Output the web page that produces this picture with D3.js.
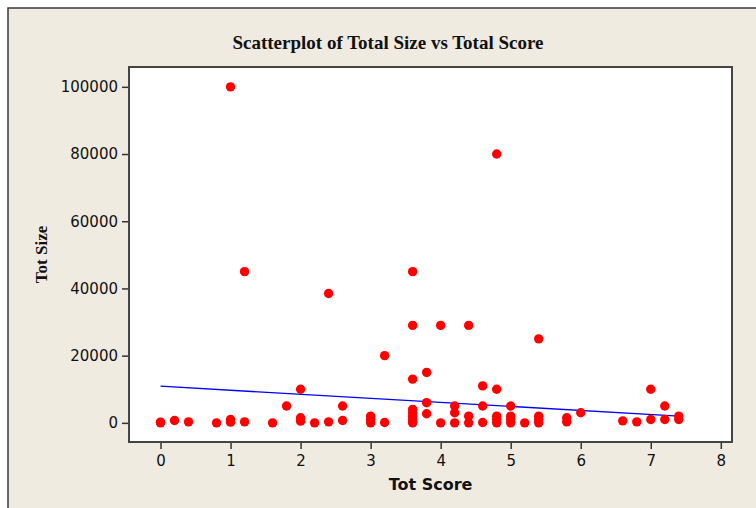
<!DOCTYPE html>
<html>
<head>
<meta charset="utf-8">
<script src="https://cdn.jsdelivr.net/npm/d3@7"></script>
<style>
  html, body { margin: 0; padding: 0; background: #ffffff; }
  svg { display: block; }
</style>
</head>
<body>
<svg id="chart" width="756" height="508"></svg>
<script>
// ---- Data ----
const scores = [
  0, 0, 0.2, 0.4, 0.8,
  1.0, 1.0, 1.0, 1.2, 1.2, 1.6, 1.8,
  2.0, 2.0, 2.0, 2.2, 2.4, 2.4, 2.6, 2.6,
  3.0, 3.0, 3.0, 3.2, 3.2,
  3.6, 3.6, 3.6, 3.6, 3.6, 3.6, 3.6, 3.6, 3.6,
  3.8, 3.8, 3.8, 4.0, 4.0,
  4.2, 4.2, 4.2, 4.4, 4.4, 4.4,
  4.6, 4.6, 4.6, 4.8, 4.8, 4.8, 4.8, 4.8,
  5.0, 5.0, 5.0, 5.0, 5.2,
  5.4, 5.4, 5.4, 5.4, 5.8, 5.8, 6.0,
  6.6, 6.8, 7.0, 7.0, 7.2, 7.2, 7.4, 7.4
];
const sizes = [
  0, 200, 700, 300, 0,
  100000, 1000, 200, 45000, 300, 0, 5000,
  10000, 1500, 500, 0, 38500, 300, 5000, 700,
  2000, 1000, 0, 20000, 100,
  45000, 29000, 13000, 4000, 3000, 2000, 1000, 300, 0,
  15000, 6000, 2700, 29000, 0,
  5000, 3000, 0, 29000, 2000, 0,
  11000, 5000, 100, 80000, 10000, 2000, 1000, 0,
  5000, 2000, 1000, 0, 0,
  25000, 2000, 1000, 0, 1500, 300, 3000,
  600, 300, 10000, 1000, 5000, 1000, 2000, 1000
];
// fitted regression line endpoints
const fitScores = [0, 7.4];
const fitSizes = [10900, 2000];

const xTicks = [0, 1, 2, 3, 4, 5, 6, 7, 8];
const yTicks = [0, 20000, 40000, 60000, 80000, 100000];

const titleText = "Scatterplot of Total Size vs Total Score";
const xLabel = "Tot Score";
const yLabel = "Tot Size";

// ---- Layout ----
const W = 756, H = 508;
const plot = { left: 129, right: 732, top: 67, bottom: 442 };

const svg = d3.select("#chart");

// outer panel
svg.append("rect")
  .attr("x", 8).attr("y", 8)
  .attr("width", W + 20).attr("height", H + 20)
  .attr("fill", "#efebe1")
  .attr("stroke", "#3a3a3a")
  .attr("stroke-width", 1.5);

const x = d3.scaleLinear().domain([-0.45, 8.16]).range([plot.left, plot.right]);
const y = d3.scaleLinear().domain([-5700, 105900]).range([plot.bottom, plot.top]);

// plot area
svg.append("rect")
  .attr("x", plot.left).attr("y", plot.top)
  .attr("width", plot.right - plot.left)
  .attr("height", plot.bottom - plot.top)
  .attr("fill", "#ffffff");

// axes
const xAxis = d3.axisBottom(x)
  .tickValues(xTicks)
  .tickFormat(d3.format("d"))
  .tickSizeInner(7).tickSizeOuter(0).tickPadding(6);
const yAxis = d3.axisLeft(y)
  .tickValues(yTicks)
  .tickFormat(d3.format("d"))
  .tickSizeInner(7).tickSizeOuter(0).tickPadding(4);

const gx = svg.append("g")
  .attr("transform", `translate(0,${plot.bottom})`)
  .call(xAxis);
const gy = svg.append("g")
  .attr("transform", `translate(${plot.left},0)`)
  .call(yAxis);

[gx, gy].forEach(g => {
  g.select(".domain").remove();
  g.selectAll(".tick line").attr("stroke", "#333").attr("stroke-width", 1.5);
  g.selectAll(".tick text")
    .attr("fill", "#111")
    .style("font-family", "'DejaVu Sans', Verdana, sans-serif")
    .style("font-size", "15px");
});

// regression line
const line = d3.line().x(d => x(d[0])).y(d => y(d[1]));
svg.append("path")
  .datum(d3.zip(fitScores, fitSizes))
  .attr("d", line)
  .attr("fill", "none")
  .attr("stroke", "#0000ff")
  .attr("stroke-width", 1.3);

// points
svg.append("g")
  .selectAll("circle")
  .data(d3.zip(scores, sizes))
  .join("circle")
  .attr("cx", d => x(d[0]))
  .attr("cy", d => y(d[1]))
  .attr("r", 4.7)
  .attr("fill", "#ff0000");

// plot frame
svg.append("rect")
  .attr("x", plot.left).attr("y", plot.top)
  .attr("width", plot.right - plot.left)
  .attr("height", plot.bottom - plot.top)
  .attr("fill", "none")
  .attr("stroke", "#444")
  .attr("stroke-width", 2);

// title
svg.append("text")
  .attr("x", 388)
  .attr("y", 49)
  .attr("text-anchor", "middle")
  .style("font-family", "'Liberation Serif', 'Times New Roman', serif")
  .style("font-weight", "bold")
  .style("font-size", "19px")
  .attr("fill", "#111")
  .text(titleText);

// x label
svg.append("text")
  .attr("x", (plot.left + plot.right) / 2)
  .attr("y", 490)
  .attr("text-anchor", "middle")
  .style("font-family", "'DejaVu Sans', Verdana, sans-serif")
  .style("font-weight", "bold")
  .style("font-size", "16px")
  .attr("fill", "#111")
  .text(xLabel);

// y label
svg.append("text")
  .attr("transform", `translate(47,${(plot.top + plot.bottom) / 2}) rotate(-90)`)
  .attr("text-anchor", "middle")
  .style("font-family", "'Liberation Serif', 'Times New Roman', serif")
  .style("font-weight", "bold")
  .style("font-size", "17px")
  .attr("fill", "#111")
  .text(yLabel);
</script>
</body>
</html>
